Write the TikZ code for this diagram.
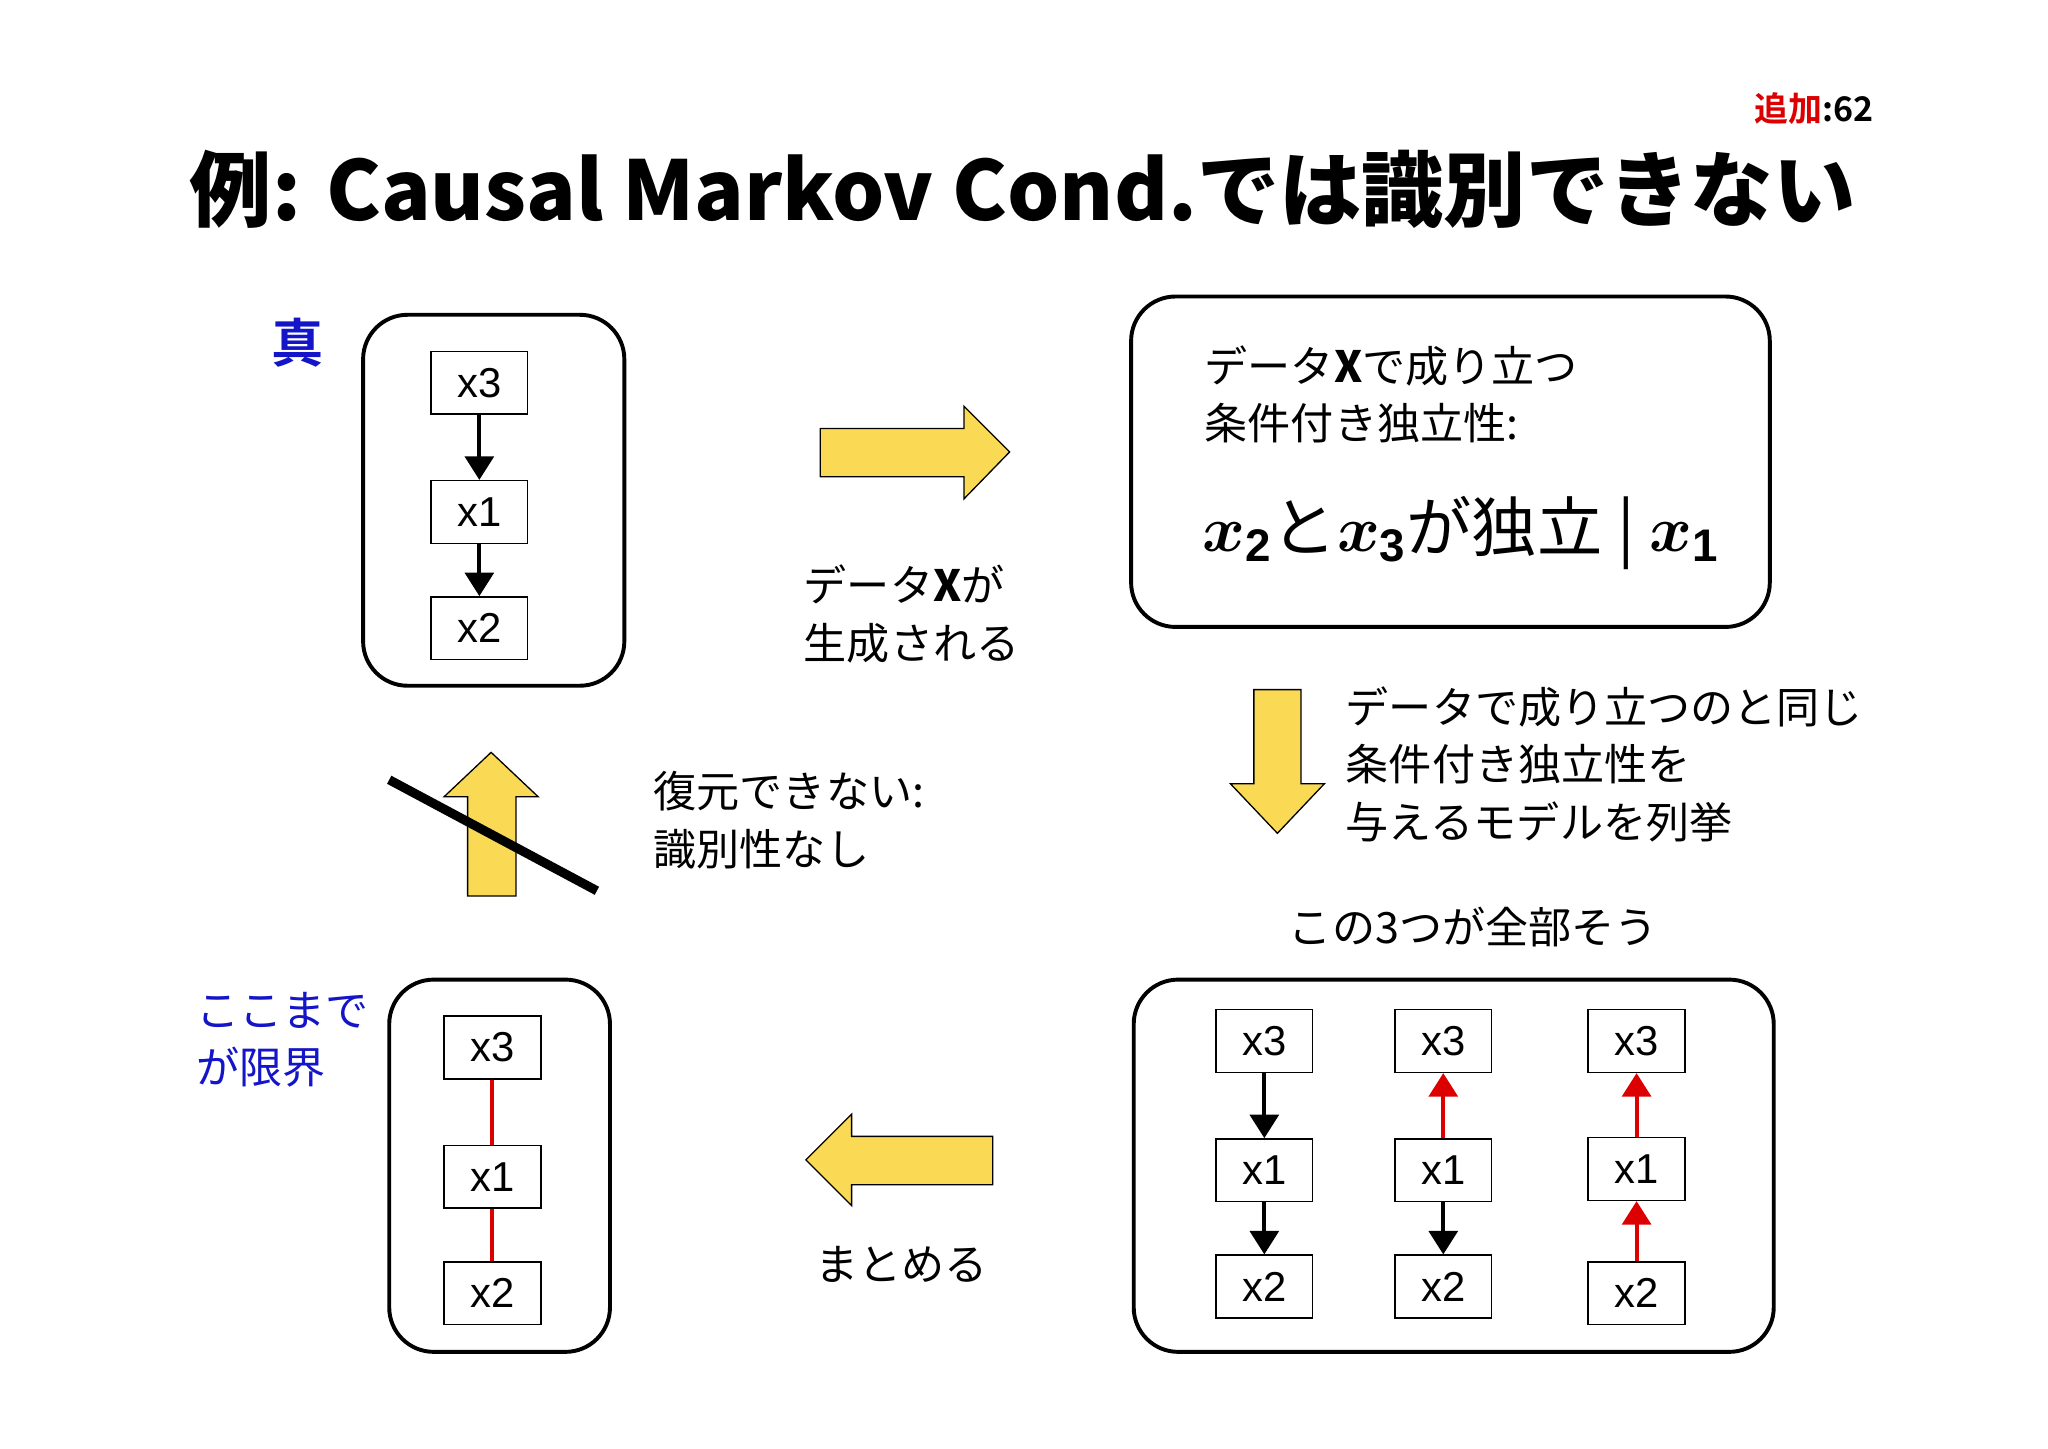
\documentclass[tikz,border=0pt]{standalone}
\usepackage{fontspec}
\usepackage{bm}
\setmainfont{Liberation Sans}
\newfontfamily\jp{Noto Sans CJK JP}
\newfontfamily\jpb{Noto Sans CJK JP Black}
\newfontfamily\jpbb{Noto Sans CJK JP Bold}
\usetikzlibrary{arrows.meta,shapes.arrows}
\definecolor{ylw}{RGB}{250,218,85}
\definecolor{blu}{RGB}{20,20,200}
\definecolor{rd}{RGB}{220,0,0}
\begin{document}
\begin{tikzpicture}[x=0.5pt,y=-0.5pt,
  vbox/.style={draw,line width=0.6pt,minimum width=37pt,minimum height=24pt,inner sep=0pt,font=\fontsize{16}{18}\selectfont},
  frame/.style={draw,line width=1.5pt,rounded corners=17pt},
  blk/.style={line width=1.5pt,-{Triangle[length=9pt,width=11pt]}},
  red/.style={line width=1.5pt,draw=rd,-{Triangle[length=9pt,width=11pt]},color=rd},
  jt/.style={font=\jp\fontsize{16.5}{22}\selectfont,align=left,inner sep=0pt},
  yarrow/.style={fill=ylw,draw=black,line width=0.5pt}]
\useasboundingbox (0,0) rectangle (1568,1109);
\fill[white] (0,0) rectangle (1568,1109);
% header
\node[anchor=east,inner sep=0pt,font=\jpbb\fontsize{13}{15}\selectfont] (tag) at (1435,83) {\textcolor{rd}{追加}:62};
\node[inner sep=0pt,font=\jpb\fontsize{31.5}{36}\selectfont] (title) at (783,145) {例: Causal Markov Cond.では識別できない};
% true
\node[inner sep=0pt,font=\jpbb\fontsize{20}{24}\selectfont,text=blu] (truth) at (228,262) {真};
\draw[frame] (278,241) rectangle (478,525);
\node[vbox] (a3) at (367,293) {x3};
\node[vbox] (a1) at (367,392) {x1};
\node[vbox] (a2) at (367,481) {x2};
\draw[blk] (a3) -- (a1);
\draw[blk] (a1) -- (a2);
% arrow right
\draw[yarrow] (628,328) -- (738,328) -- (738,311) -- (773,346) -- (738,382) -- (738,365) -- (628,365) -- cycle;
\node[jt,anchor=west] (gen) at (615,470) {データ\textbf{X}が\\生成される};
% box2
\draw[frame] (866,227) rectangle (1355,480);
\node[jt,anchor=west] (ci) at (922,302) {データ\textbf{X}で成り立つ\\条件付き独立性:};
\node[anchor=west,inner sep=0pt,font=\jp\fontsize{25}{30}\selectfont] (eq) at (920,408) {$\bm{x}_{\mathbf 2}$と$\bm{x}_{\mathbf 3}$が独立 | $\bm{x}_{\mathbf 1}$};
% down arrow
\draw[yarrow] (960,528) -- (996,528) -- (996,600) -- (1014,600) -- (978,638) -- (942,600) -- (960,600) -- cycle;
\node[jt,anchor=west] (enum) at (1030,585) {データで成り立つのと同じ\\条件付き独立性を\\与えるモデルを列挙};
\node[jt] (all) at (1128,710) {この3つが全部そう};
% box3
\draw[frame] (868,750) rectangle (1358,1035);
\node[vbox] (b3) at (968,797) {x3};
\node[vbox] (b1) at (968,896) {x1};
\node[vbox] (b2) at (968,985) {x2};
\draw[blk] (b3) -- (b1); \draw[blk] (b1) -- (b2);
\node[vbox] (c3) at (1105,797) {x3};
\node[vbox] (c1) at (1105,896) {x1};
\node[vbox] (c2) at (1105,985) {x2};
\draw[red] (c1) -- (c3); \draw[blk] (c1) -- (c2);
\node[vbox] (d3) at (1253,797) {x3};
\node[vbox] (d1) at (1253,895) {x1};
\node[vbox] (d2) at (1253,990) {x2};
\draw[red] (d1) -- (d3); \draw[red] (d2) -- (d1);
% left arrow
\draw[yarrow] (760,870) -- (652,870) -- (652,853) -- (617,888) -- (652,923) -- (652,907) -- (760,907) -- cycle;
\node[jt] (sum) at (690,968) {まとめる};
% box4
\draw[frame] (298,750) rectangle (467,1035);
\node[vbox] (e3) at (377,802) {x3};
\node[vbox] (e1) at (377,901) {x1};
\node[vbox] (e2) at (377,990) {x2};
\draw[line width=1.5pt,rd] (e3) -- (e1); \draw[line width=1.5pt,rd] (e1) -- (e2);
\node[jt,text=blu] (lim) at (150,796) [anchor=west] {ここまで\\が限界};
% up arrow
\draw[yarrow] (358,686) -- (358,610) -- (340,610) -- (376,576) -- (412,610) -- (395,610) -- (395,686) -- cycle;
\coordinate (s1) at (298,597); \coordinate (s2) at (457,682);
\draw[line width=3.5pt] (s1) -- (s2);
\node[jt,anchor=west] (noid) at (500,628) {復元できない:\\識別性なし};
\end{tikzpicture}
\end{document}
